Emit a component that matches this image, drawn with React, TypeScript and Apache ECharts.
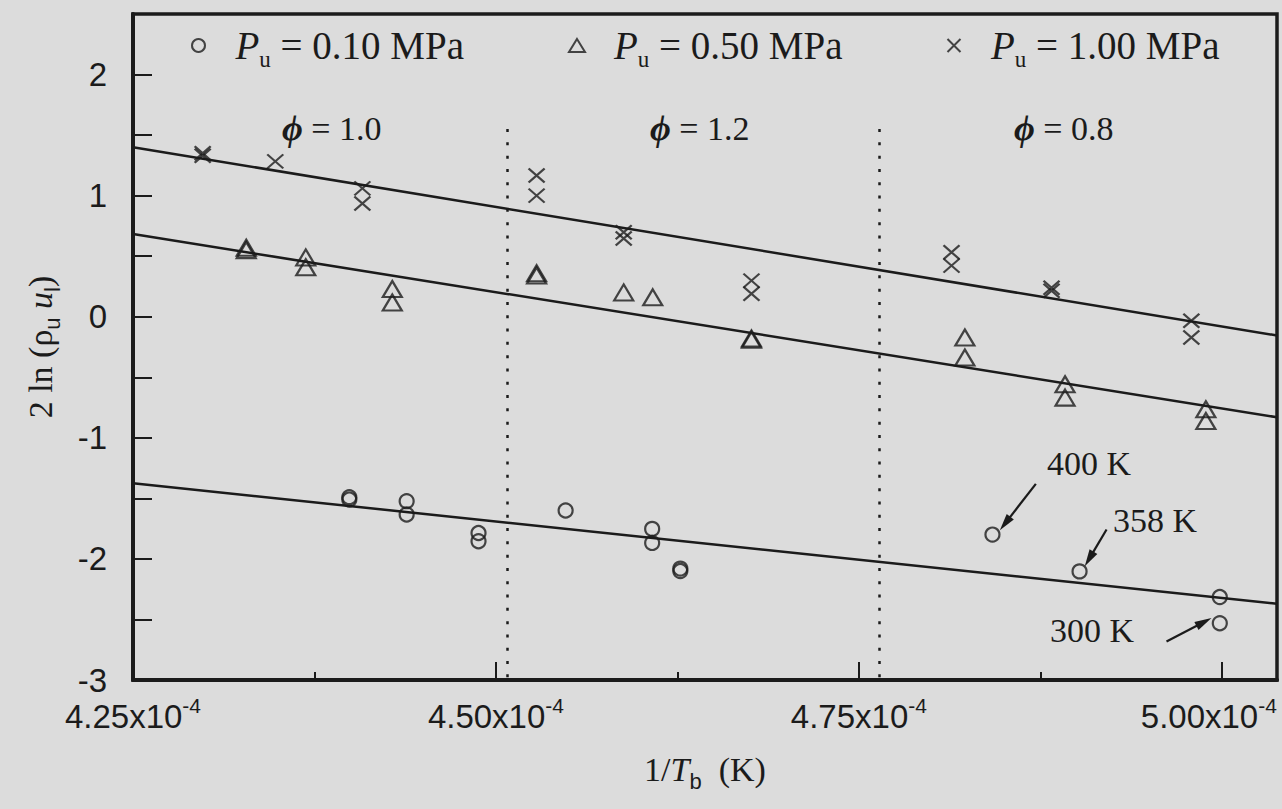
import React, { useEffect, useRef } from "react";
import * as echarts from "echarts";

// x values are 1/T_b in units of 10^-4 K^-1, y values are 2 ln(rho_u u_l)
const circles010: number[][] = [
  [4.399, -1.49], [4.399, -1.51], [4.4385, -1.523], [4.4385, -1.633],
  [4.488, -1.786], [4.488, -1.854], [4.548, -1.6], [4.6076, -1.752],
  [4.6076, -1.868], [4.627, -2.08], [4.627, -2.1], [4.842, -1.799],
  [4.902, -2.103], [4.9986, -2.315], [4.9986, -2.531],
];
const triangles050: number[][] = [
  [4.328, 0.57], [4.328, 0.55], [4.369, 0.49], [4.369, 0.408],
  [4.4286, 0.229], [4.4286, 0.118], [4.528, 0.36], [4.528, 0.34],
  [4.588, 0.201], [4.608, 0.16], [4.676, -0.18], [4.676, -0.19],
  [4.823, -0.171], [4.823, -0.337], [4.892, -0.557], [4.892, -0.668],
  [4.989, -0.764], [4.989, -0.861],
];
const crosses100: number[][] = [
  [4.298, 1.35], [4.298, 1.33], [4.348, 1.283], [4.408, 1.06],
  [4.408, 0.935], [4.528, 1.167], [4.528, 1.0], [4.588, 0.698],
  [4.588, 0.646], [4.676, 0.298], [4.676, 0.19], [4.8138, 0.532],
  [4.8138, 0.422], [4.8827, 0.24], [4.8827, 0.215], [4.979, -0.033],
  [4.979, -0.171],
];

// least-squares fit lines, evaluated at both ends of the axis
const fitX = [4.25, 5.038];
const fit010 = [-1.375, -2.37];
const fit050 = [0.683, -0.83];
const fit100 = [1.4, -0.155];

const pressureLabels = ["0.10", "0.50", "1.00"];
const phiBoundaries = [4.508, 4.764];
const phiValues = ["1.0", "1.2", "0.8"];
const tempLabels = ["400 K", "358 K", "300 K"];
const arrowFrom: number[][] = [[4.8719, -1.38], [4.9206, -1.757], [4.9619, -2.682]];
const arrowTo: number[][] = [[4.8471, -1.763], [4.9056, -2.061], [4.9929, -2.489]];

const X_MIN = 4.25;
const X_MAX = 5.038;
const Y_MIN = -3;
const Y_MAX = 2.5;

const INK = "#1b1b1b";
const BG = "#dcdcdc";
const SERIF = '"Liberation Serif", "Times New Roman", serif';
const SANS = '"Liberation Sans", Arial, sans-serif';
const CROSS = "path://M0,0L10,10M10,0L0,10";

const toLine = (ys: number[]) => fitX.map((x, i) => [x, ys[i]]);

export default function App() {
  const ref = useRef<HTMLDivElement>(null);

  useEffect(() => {
    const chart = echarts.init(ref.current!, undefined, { renderer: "svg" });

    const markerStyle = {
      color: "rgba(0,0,0,0)",
      borderColor: INK,
      borderWidth: 2.2,
    };
    const fitSeries = (ys: number[]) => ({
      type: "line",
      data: toLine(ys),
      symbol: "none",
      silent: true,
      lineStyle: { color: INK, width: 2.5 },
      z: 1,
    });

    const option: any = {
      animation: false,
      backgroundColor: BG,
      grid: {
        left: 133,
        right: 5,
        top: 14,
        bottom: 129,
        show: true,
        borderColor: INK,
        borderWidth: 3.5,
        containLabel: false,
        outerBoundsMode: "none",
      },
      legend: {
        left: 186,
        top: 21,
        selectedMode: false,
        itemWidth: 16,
        itemHeight: 13,
        itemGap: 104,
        data: pressureLabels.map((p) => `P_u = ${p} MPa`),
        formatter: (name: string) =>
          `{i|P}{s|u}{t| = ${name.replace("P_u = ", "")}}`,
        textStyle: {
          color: INK,
          rich: {
            t: { fontFamily: SERIF, fontSize: 39, lineHeight: 50, color: INK },
            i: {
              fontFamily: SERIF, fontSize: 39, lineHeight: 50, fontStyle: "italic",
              color: INK, padding: [0, 0, 0, 24],
            },
            s: { fontFamily: SERIF, fontSize: 23, lineHeight: 22, verticalAlign: "bottom", color: INK },
          },
        },
      },
      xAxis: [
        {
          type: "value",
          min: X_MIN,
          max: X_MAX,
          interval: 0.25,
          position: "bottom",
          name: "{t|1/}{i|T}{s|b}{t|  (K)}",
          nameLocation: "middle",
          nameGap: 66,
          nameTextStyle: {
            color: INK,
            rich: {
              t: { fontFamily: SERIF, fontSize: 34, lineHeight: 46, color: INK },
              i: { fontFamily: SERIF, fontSize: 34, lineHeight: 46, fontStyle: "italic", color: INK },
              s: { fontFamily: SANS, fontSize: 22, lineHeight: 22, verticalAlign: "bottom", color: INK },
            },
          },
          axisLine: { show: true, onZero: false, lineStyle: { color: INK, width: 4 } },
          axisTick: { show: true, inside: true, length: 18, lineStyle: { color: INK, width: 2 } },
          splitLine: { show: false },
          axisLabel: {
            margin: 15,
            formatter: (v: number) => {
              const k = Math.round(v / 0.25);
              if (Math.abs(v - k * 0.25) > 1e-6) return "";
              // the last label is nudged left so it stays inside the page
              const sup = v > 4.9 ? "supEnd" : "sup";
              return `{n|${v.toFixed(2)}x10}{${sup}|-4}`;
            },
            rich: {
              n: { fontFamily: SANS, fontSize: 33, lineHeight: 42, color: INK },
              sup: { fontFamily: SANS, fontSize: 21, lineHeight: 14, verticalAlign: "top", color: INK },
              supEnd: {
                fontFamily: SANS, fontSize: 21, lineHeight: 14, verticalAlign: "top",
                color: INK, padding: [0, 26, 0, 0],
              },
            },
          },
        },
        {
          type: "value",
          min: X_MIN,
          max: X_MAX,
          interval: 0.125,
          position: "bottom",
          axisLine: { show: false, onZero: false },
          axisTick: { show: true, inside: true, length: 8, lineStyle: { color: INK, width: 2 } },
          axisLabel: { show: false },
          splitLine: { show: false },
        },
      ],
      yAxis: {
        type: "value",
        min: Y_MIN,
        max: Y_MAX,
        interval: 0.5,
        name: "{t|2 ln (}{g|ρ}{s|u}{i| u}{s|l}{t|)}",
        nameLocation: "middle",
        nameGap: 70,
        nameTextStyle: {
          color: INK,
          rich: {
            t: { fontFamily: SERIF, fontSize: 34, lineHeight: 46, color: INK },
            g: { fontFamily: SERIF, fontSize: 34, lineHeight: 46, color: INK },
            i: { fontFamily: SERIF, fontSize: 34, lineHeight: 46, fontStyle: "italic", color: INK },
            s: { fontFamily: SANS, fontSize: 22, lineHeight: 22, verticalAlign: "bottom", color: INK },
          },
        },
        axisLine: { show: true, onZero: false, lineStyle: { color: INK, width: 4 } },
        axisTick: { show: true, inside: true, length: 19, lineStyle: { color: INK, width: 2 } },
        splitLine: { show: false },
        axisLabel: {
          margin: 26,
          color: INK,
          fontFamily: SANS,
          fontSize: 33,
          formatter: (v: number) =>
            Math.abs(v - Math.round(v)) < 1e-6 ? String(Math.round(v)) : "",
        },
      },
      series: [
        {
          ...fitSeries(fit100),
          markLine: {
            silent: true,
            symbol: ["none", "none"],
            label: { show: false },
            lineStyle: { color: INK, width: 2.5, type: [3, 10.3] },
            data: phiBoundaries.map((x) => [
              { coord: [x, 1.55] },
              { coord: [x, Y_MIN] },
            ]),
          },
        },
        fitSeries(fit050),
        fitSeries(fit010),
        {
          name: `P_u = ${pressureLabels[0]} MPa`,
          type: "scatter",
          symbol: "circle",
          symbolSize: 14,
          data: circles010,
          itemStyle: markerStyle,
          z: 3,
        },
        {
          name: `P_u = ${pressureLabels[1]} MPa`,
          type: "scatter",
          symbol: "triangle",
          symbolSize: [19, 16],
          data: triangles050,
          itemStyle: markerStyle,
          z: 3,
        },
        {
          name: `P_u = ${pressureLabels[2]} MPa`,
          type: "scatter",
          symbol: CROSS,
          symbolSize: [16, 14],
          data: crosses100,
          itemStyle: markerStyle,
          z: 3,
        },
      ],
    };

    chart.setOption(option);

    // equivalence-ratio labels and temperature annotations
    const phiX = [282, 650, 1014];
    const tempPos = [
      [1047, 463],
      [1113, 520],
      [1050, 630],
    ];
    const graphics: any[] = [];
    phiValues.forEach((v, i) => {
      graphics.push({
        type: "text",
        x: phiX[i],
        y: 128,
        style: {
          text: `{p|ϕ}{t| = ${v}}`,
          verticalAlign: "middle",
          align: "left",
          rich: {
            p: { fontFamily: SERIF, fontSize: 36, fontStyle: "italic", fontWeight: "bold", fill: INK },
            t: { fontFamily: SERIF, fontSize: 34, fill: INK },
          },
        },
      });
    });
    tempLabels.forEach((t, i) => {
      graphics.push({
        type: "text",
        x: tempPos[i][0],
        y: tempPos[i][1],
        style: {
          text: t,
          fontFamily: SERIF,
          fontSize: 34,
          fill: INK,
          verticalAlign: "middle",
          align: "left",
        },
      });
    });
    // arrows pointing at the annotated points, placed through the axes
    arrowFrom.forEach((from, i) => {
      const p0 = chart.convertToPixel({ gridIndex: 0 }, from) as number[];
      const p1 = chart.convertToPixel({ gridIndex: 0 }, arrowTo[i]) as number[];
      const dx = p1[0] - p0[0];
      const dy = p1[1] - p0[1];
      const len = Math.hypot(dx, dy);
      const ux = dx / len;
      const uy = dy / len;
      const headLen = 17;
      const headHalf = 4.5;
      const bx = p1[0] - ux * headLen;
      const by = p1[1] - uy * headLen;
      graphics.push({
        type: "line",
        shape: { x1: p0[0], y1: p0[1], x2: bx + ux * 2, y2: by + uy * 2 },
        style: { stroke: INK, lineWidth: 2.2 },
        z: 10,
      });
      graphics.push({
        type: "polygon",
        shape: {
          points: [
            [p1[0], p1[1]],
            [bx - uy * headHalf, by + ux * headHalf],
            [bx + uy * headHalf, by - ux * headHalf],
          ],
        },
        style: { fill: INK },
        z: 10,
      });
    });
    chart.setOption({ graphic: graphics });

    return () => chart.dispose();
  }, []);

  return (
    <div
      ref={ref}
      style={{ position: "absolute", left: 0, top: 0, width: 1282, height: 809 }}
    />
  );
}
